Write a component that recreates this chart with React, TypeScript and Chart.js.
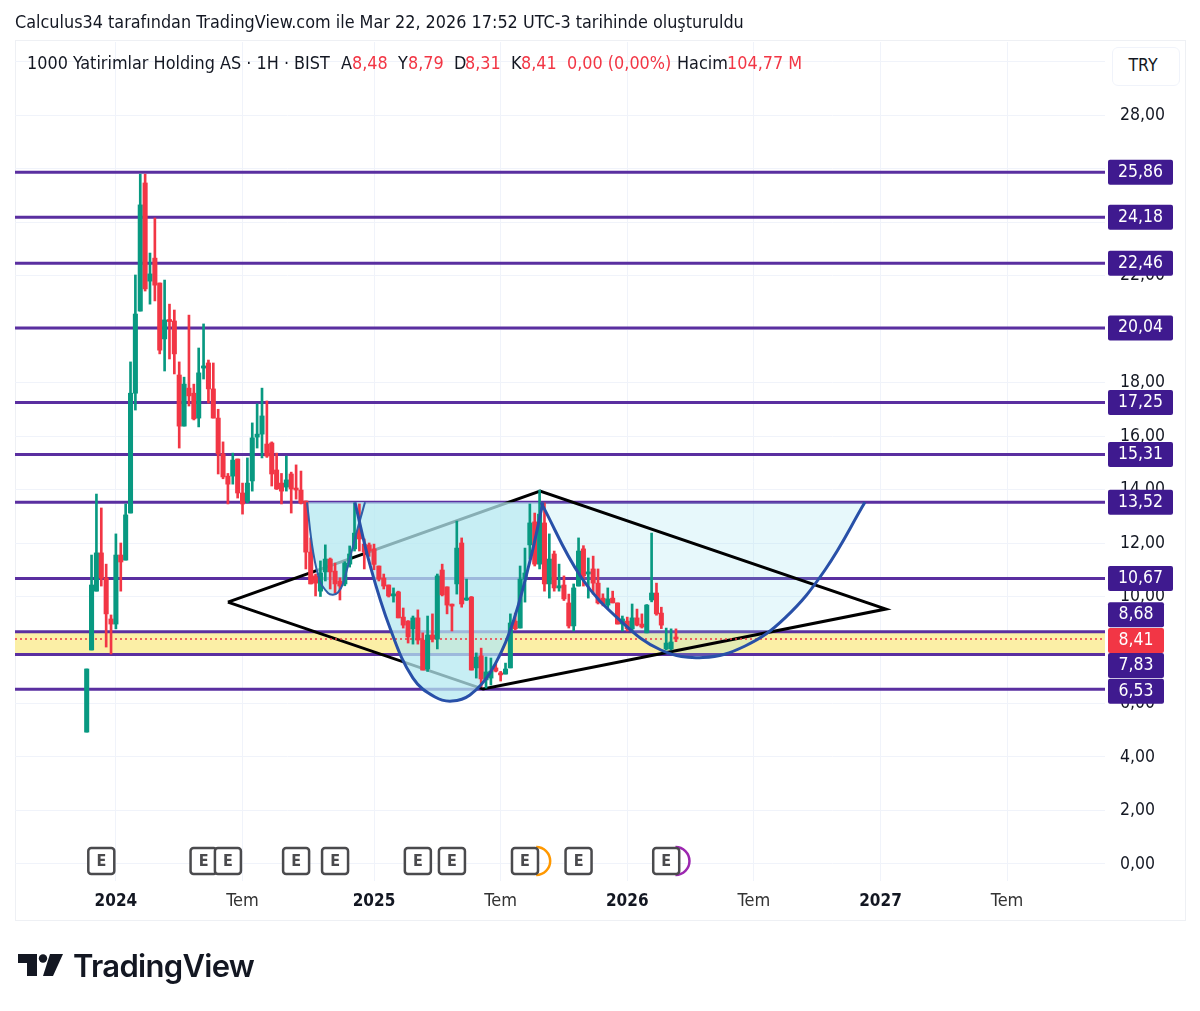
import { useEffect, useRef } from 'react'
import { Chart, registerables } from 'chart.js'

Chart.register(...registerables)

const FONT = '"DejaVu Sans Condensed", "DejaVu Sans", sans-serif'

// weekly candles
const opens = [4.93, 8.0, 10.2, 11.63, 10.69, 9.16, 8.97, 11.55, 11.36, 13.12, 17.6, 20.67, 25.46, 21.79, 22.65, 21.72, 19.63, 20.34, 20.3, 18.28, 16.37, 17.79, 17.6, 16.67, 18.54, 18.73, 17.76, 16.67, 15.33, 14.5, 14.5, 15.14, 13.87, 13.57, 14.32, 15.96, 16.07, 15.7, 15.74, 14.73, 14.24, 14.09, 14.58, 14.02, 13.98, 13.57, 11.66, 10.77, 10.2, 10.92, 11.4, 10.95, 10.58, 10.47, 11.21, 11.78, 12.52, 11.96, 11.93, 11.78, 11.14, 10.69, 10.43, 10.02, 10.17, 9.23, 9.08, 8.79, 9.2, 8.37, 7.29, 8.56, 8.41, 10.99, 10.36, 9.68, 10.47, 12.0, 9.87, 9.98, 7.33, 7.78, 6.88, 6.95, 7.33, 7.14, 7.1, 7.33, 9.08, 8.82, 10.65, 11.93, 12.79, 11.21, 12.75, 10.47, 11.59, 10.32, 10.43, 9.76, 8.9, 10.39, 11.78, 10.84, 11.03, 10.5, 9.94, 9.68, 9.94, 9.76, 8.97, 9.08, 8.79, 9.2, 8.97, 8.64, 9.87, 10.13, 9.38, 8.04, 8.04, 8.48]
const highs = [7.29, 11.55, 13.83, 13.31, 11.21, 9.31, 12.34, 12.0, 13.46, 18.77, 22.02, 25.79, 25.79, 22.84, 24.15, 21.72, 21.83, 20.93, 20.71, 18.77, 18.2, 20.52, 17.94, 19.29, 20.19, 18.84, 18.73, 17.0, 15.78, 14.6, 15.36, 15.14, 14.24, 15.18, 16.49, 17.2, 17.79, 17.31, 15.78, 15.36, 14.6, 15.25, 14.65, 14.92, 14.69, 13.57, 12.19, 10.84, 11.33, 11.93, 11.44, 11.25, 10.7, 11.3, 11.89, 13.5, 13.46, 12.15, 12.0, 11.96, 11.14, 10.84, 10.43, 10.32, 10.2, 9.57, 9.1, 9.27, 9.5, 8.64, 9.27, 9.35, 10.84, 11.21, 10.36, 9.72, 12.82, 12.19, 10.65, 10.0, 7.89, 8.07, 7.74, 7.7, 7.48, 7.2, 7.51, 9.35, 9.38, 11.14, 11.81, 13.46, 13.12, 13.98, 13.5, 12.34, 11.7, 11.21, 10.77, 10.09, 10.47, 12.19, 11.9, 11.44, 11.51, 11.03, 10.1, 10.32, 10.2, 9.76, 9.27, 9.23, 9.72, 9.53, 9.35, 9.7, 12.37, 10.5, 9.6, 8.82, 8.79, 8.79]
const lows = [4.93, 8.0, 10.2, 10.39, 8.11, 7.85, 8.79, 10.2, 11.36, 13.12, 16.97, 20.67, 21.42, 20.93, 21.05, 19.07, 18.43, 18.88, 18.32, 15.55, 16.37, 17.12, 16.6, 16.34, 18.13, 17.23, 16.67, 14.58, 14.4, 13.46, 14.2, 13.68, 13.08, 13.5, 13.94, 15.55, 15.18, 15.2, 14.13, 14.0, 13.46, 13.94, 13.12, 13.64, 13.46, 11.03, 10.47, 10.02, 10.0, 10.58, 10.28, 10.13, 9.87, 10.4, 11.1, 11.7, 11.7, 11.03, 11.5, 11.0, 10.58, 10.28, 9.98, 9.79, 9.2, 8.82, 8.26, 8.22, 8.22, 7.25, 7.2, 8.3, 8.04, 10.02, 9.35, 8.71, 10.09, 9.6, 9.85, 7.25, 6.95, 6.62, 6.58, 6.69, 7.18, 6.84, 7.1, 7.33, 8.75, 8.82, 9.79, 11.4, 11.14, 11.03, 10.2, 9.94, 10.2, 10.2, 9.85, 8.82, 8.71, 10.39, 10.39, 9.94, 10.09, 9.72, 9.65, 9.57, 9.76, 8.97, 8.71, 8.71, 8.71, 8.9, 8.82, 8.64, 9.8, 9.3, 8.8, 8.0, 8.0, 8.31]
const closes = [7.29, 10.43, 11.63, 10.69, 9.35, 8.97, 11.55, 11.29, 13.05, 17.6, 20.56, 24.64, 21.5, 22.06, 21.64, 19.21, 20.34, 20.28, 19.07, 16.37, 17.94, 17.5, 16.64, 18.36, 18.62, 17.76, 16.67, 15.33, 14.47, 14.2, 15.1, 13.87, 13.46, 14.24, 15.93, 16.07, 16.75, 15.25, 14.58, 14.02, 13.94, 14.36, 14.02, 13.98, 13.5, 11.66, 10.47, 10.5, 10.88, 11.4, 10.92, 10.47, 10.39, 11.25, 11.59, 12.37, 12.15, 11.66, 11.7, 11.2, 10.65, 10.39, 10.02, 10.1, 9.2, 8.93, 8.49, 9.2, 8.37, 7.25, 8.56, 8.41, 10.77, 10.06, 9.68, 9.64, 11.81, 9.72, 9.91, 7.25, 7.74, 6.92, 7.18, 7.21, 7.21, 7.07, 7.29, 9.01, 8.79, 10.65, 10.88, 12.75, 11.21, 13.08, 10.47, 11.4, 10.32, 10.4, 9.91, 8.9, 10.32, 11.7, 10.77, 10.92, 10.5, 9.76, 9.72, 9.91, 9.76, 8.97, 9.16, 8.79, 9.2, 8.93, 8.86, 9.68, 10.13, 9.35, 8.93, 8.26, 8.3, 8.41]

const levels = [25.86, 24.18, 22.46, 20.04, 17.25, 15.31, 13.52, 10.67, 8.68, 7.83, 6.53]
const lastPrice = 8.41

const cupSmall = [[45.24, 13.52], [46.47, 11.7], [47.9, 10.58], [49.55, 10.13], [50.57, 10.07], [51.6, 10.15], [52.6, 10.47], [54.06, 11.44], [55.5, 12.45], [57.15, 13.52]]
const cupMid = [[55.09, 13.52], [58.17, 11.18], [62.28, 8.82], [67.0, 6.95], [71.52, 6.24], [75.0, 6.09], [78.7, 6.32], [82.8, 7.14], [86.92, 8.71], [91.03, 11.33], [93.7, 13.52]]
const cupBig = [[93.28, 13.52], [101.5, 10.73], [109.7, 9.08], [117.9, 8.0], [126.55, 7.72], [135.2, 8.15], [143.4, 9.2], [151.6, 10.99], [159.8, 13.52]]
const diamond = [[29.0, 9.79], [93.1, 13.94], [164.1, 9.53], [81.4, 6.54], [29.0, 9.79]]

const xTicks = [6, 32, 59, 85, 111, 137, 163, 189]
const xTickLabels = ['2024', 'Tem', '2025', 'Tem', '2026', 'Tem', '2027', 'Tem']
const earnings = [3, 24, 29, 43, 51, 68, 75, 90, 101, 119]

const X_MIN = -14.72
const X_MAX = 209.1
const GREEN = '#089981'
const RED = '#f23645'
const PURPLE = '#5a2fa0'
const BADGE = '#3f1a8f'

const toPts = (list: number[][]) => list.map(([x, y]) => ({ x, y }))
const fmt = (v: number) => v.toFixed(2).replace('.', ',')
const hline = (v: number) => [{ x: X_MIN, y: v }, { x: X_MAX, y: v }]
const isYearTick = (c: any) => (xTickLabels[xTicks.indexOf(c.tick?.value)] ?? '').length === 4

// labels that TradingView pushed apart so they do not overlap
const badgeShift: Record<string, number> = { '8,68': -17, '8,41': 1.5, '7,83': 11, '6,53': 2 }

const overlayPlugin = {
  id: 'overlay',
  beforeDraw(chart: any) {
    const { ctx } = chart
    ctx.save()
    ctx.strokeStyle = '#eef0f4'
    ctx.lineWidth = 1
    ctx.strokeRect(15.5, 40.5, 1170, 880)
    ctx.restore()
  },
  afterDraw(chart: any) {
    const { ctx, scales } = chart
    const y0 = scales.y.getPixelForValue(0) - 3
    ctx.save()

    // dividend + next earnings half circles
    const arc = (x: number, color: string) => {
      ctx.beginPath()
      ctx.arc(x, y0, 14, -Math.PI / 2, Math.PI / 2)
      ctx.strokeStyle = color
      ctx.lineWidth = 2.5
      ctx.stroke()
    }
    arc(scales.x.getPixelForValue(92.3), '#ff9800')
    ctx.fillStyle = '#ff9800'
    ctx.font = `bold 14px ${FONT}`
    ctx.textAlign = 'center'
    ctx.textBaseline = 'middle'
    ctx.fillText('$', scales.x.getPixelForValue(92.2), y0)
    arc(scales.x.getPixelForValue(120.9), '#9c27b0')

    // earnings markers
    earnings.forEach(i => {
      const x = scales.x.getPixelForValue(i)
      ctx.beginPath()
      ctx.roundRect(x - 13, y0 - 13, 26, 26, 3)
      ctx.fillStyle = '#fff'
      ctx.fill()
      ctx.strokeStyle = '#4a4a4d'
      ctx.lineWidth = 2.5
      ctx.stroke()
      ctx.fillStyle = '#4a4a4d'
      ctx.font = `bold 16px ${FONT}`
      ctx.textAlign = 'center'
      ctx.textBaseline = 'middle'
      ctx.fillText('E', x, y0 + 1)
    })

    // price axis badges
    const badge = (v: number, color: string) => {
      const label = fmt(v)
      const y = scales.y.getPixelForValue(v) + (badgeShift[label] ?? 0)
      const w = v >= 10 ? 65 : 56
      ctx.beginPath()
      ctx.roundRect(1108, y - 12.5, w, 25, 2)
      ctx.fillStyle = color
      ctx.fill()
      ctx.fillStyle = '#fff'
      ctx.font = `17.5px ${FONT}`
      ctx.textAlign = 'center'
      ctx.textBaseline = 'middle'
      ctx.fillText(label, 1108 + w / 2, y)
    }
    levels.forEach(v => badge(v, BADGE))
    badge(lastPrice, RED)
    ctx.restore()
  },
}

const headerParts = [
  { text: '1000 Yatirimlar Holding AS · 1H · BIST', left: 27, color: '#131722' },
  { text: 'A', left: 341, color: '#131722' },
  { text: '8,48', left: 352, color: RED },
  { text: 'Y', left: 398, color: '#131722' },
  { text: '8,79', left: 408, color: RED },
  { text: 'D', left: 454, color: '#131722' },
  { text: '8,31', left: 465, color: RED },
  { text: 'K', left: 511, color: '#131722' },
  { text: '8,41', left: 521, color: RED },
  { text: '0,00 (0,00%)', left: 567, color: RED },
  { text: 'Hacim', left: 677, color: '#131722' },
  { text: '104,77 M', left: 727, color: RED },
]

export default function App() {
  const chartRef = useRef<HTMLCanvasElement>(null)

  useEffect(() => {
    if (!chartRef.current) return
    const xs = opens.map((_, i) => i)
    const candleColors = opens.map((o, i) => (closes[i] >= o ? GREEN : RED))
    const lineBase = { type: 'line' as const, pointRadius: 0, fill: false }
    const cupFill = 'rgba(180,232,240,0.75)'

    const chart = new Chart(chartRef.current, {
      type: 'bar',
      data: {
        datasets: [
          // yellow zone
          { ...lineBase, data: hline(8.68), fill: { target: { value: 7.83 } }, backgroundColor: '#fbefa6', borderWidth: 0, order: 30 },
          ...levels.map(v => ({ ...lineBase, data: hline(v), borderColor: PURPLE, borderWidth: 3, order: 20 })),
          { ...lineBase, data: toPts(cupBig), tension: 0.4, fill: { target: { value: 13.52 } }, backgroundColor: 'rgba(135,220,235,0.2)', borderWidth: 0, order: 15 },
          { ...lineBase, data: toPts(diamond), borderColor: '#000', borderWidth: 3, order: 14 },
          { ...lineBase, data: toPts(cupSmall), tension: 0.4, fill: { target: { value: 13.52 } }, backgroundColor: cupFill, borderWidth: 0, order: 13 },
          { ...lineBase, data: toPts(cupMid), tension: 0.4, fill: { target: { value: 13.52 } }, backgroundColor: cupFill, borderWidth: 0, order: 12 },
          { ...lineBase, data: hline(lastPrice), borderColor: RED, borderWidth: 1.5, borderDash: [2, 3], order: 11 },
          { data: xs.map(i => ({ x: i, y: [lows[i], highs[i]] })), backgroundColor: candleColors, barThickness: 2, order: 5 },
          { data: xs.map(i => ({ x: i, y: [opens[i], closes[i]] })), backgroundColor: candleColors, barThickness: 4.4, minBarLength: 2, order: 4 },
          { ...lineBase, data: toPts(cupSmall), tension: 0.4, borderColor: '#2f5fa8', borderWidth: 2, order: 2 },
          { ...lineBase, data: toPts(cupMid), tension: 0.4, borderColor: '#2850a8', borderWidth: 3, order: 1 },
          { ...lineBase, data: toPts(cupBig), tension: 0.4, borderColor: '#2850a8', borderWidth: 3, order: 0 },
        ] as any,
      },
      options: {
        responsive: false,
        devicePixelRatio: 1,
        animation: false,
        layout: { padding: { top: 42, left: 15, right: 15, bottom: 90 } },
        datasets: { bar: { grouped: false } } as any,
        plugins: { legend: { display: false }, tooltip: { enabled: false } },
        scales: {
          x: {
            type: 'linear',
            min: X_MIN,
            max: X_MAX,
            offset: false,
            afterBuildTicks: (scale: any) => {
              scale.ticks = xTicks.map(value => ({ value }))
            },
            afterFit: (scale: any) => {
              scale.height = 40
            },
            grid: { color: '#f0f3fa', offset: false, drawTicks: false },
            border: { display: false },
            ticks: {
              autoSkip: false,
              maxRotation: 0,
              padding: 10,
              color: (c: any) => (isYearTick(c) ? '#131722' : '#333'),
              font: (c: any) => ({ family: FONT, size: isYearTick(c) ? 17 : 18, weight: isYearTick(c) ? 'bold' : 'normal' }),
              callback: (v: any) => xTickLabels[xTicks.indexOf(v)] ?? '',
            },
          },
          y: {
            position: 'right',
            min: -0.636,
            max: 30.73,
            afterFit: (scale: any) => {
              scale.width = 80
            },
            grid: { color: '#f0f3fa', drawTicks: false },
            border: { display: false },
            ticks: {
              stepSize: 2,
              autoSkip: false,
              includeBounds: false,
              padding: 15,
              color: '#131722',
              font: { family: FONT, size: 17.5 },
              callback: (v: any) => (v === 30 ? '' : fmt(v)),
            },
          },
        },
      },
      plugins: [overlayPlugin],
    })
    return () => chart.destroy()
  }, [])

  return (
    <div style={{ position: 'absolute', left: 0, top: 0, width: 1200, height: 1011, background: '#fff', overflow: 'hidden', fontFamily: FONT, color: '#131722' }}>
      <canvas ref={chartRef} width={1200} height={1011} style={{ position: 'absolute', left: 0, top: 0 }} />
      <div style={{ position: 'absolute', left: 15, top: 11, fontSize: 17.85, lineHeight: '21px', whiteSpace: 'nowrap' }}>
        Calculus34 tarafından TradingView.com ile Mar 22, 2026 17:52 UTC-3 tarihinde oluşturuldu
      </div>
      {headerParts.map(p => (
        <span key={p.left} style={{ position: 'absolute', left: p.left, top: 52, fontSize: 17.85, lineHeight: '21px', whiteSpace: 'nowrap', color: p.color }}>
          {p.text}
        </span>
      ))}
      <div style={{ position: 'absolute', left: 1112, top: 47, width: 60, height: 37, paddingRight: 6, border: '1px solid #f0f3fa', borderRadius: 6, background: '#fff', textAlign: 'center', lineHeight: '35px', fontSize: 17.5 }}>
        TRY
      </div>
      <svg width={48} height={26} viewBox="0 0 48 26" style={{ position: 'absolute', left: 17, top: 953 }}>
        <path d="M1 1h19v22h-10V10H1z" fill="#131722" />
        <circle cx={26} cy={5.5} r={4.2} fill="#131722" />
        <path d="M33 1h13L36 23H26z" fill="#131722" />
      </svg>
      <div style={{ position: 'absolute', left: 73, top: 945, fontFamily: 'Inter, sans-serif', fontWeight: 600, fontSize: 31, lineHeight: '42px', letterSpacing: -0.7, color: '#131722' }}>
        TradingView
      </div>
    </div>
  )
}
